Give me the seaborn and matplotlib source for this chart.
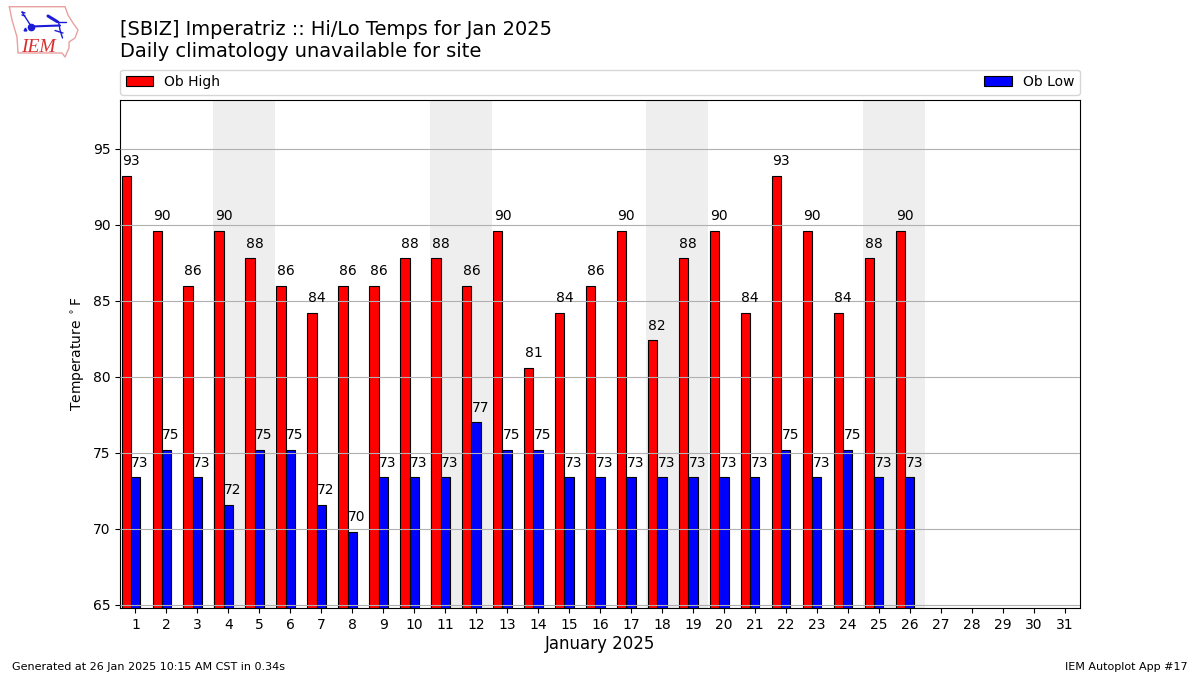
import matplotlib
matplotlib.use("Agg")
import matplotlib.pyplot as plt
import numpy as np
import pandas as pd
import seaborn as sns

days = list(range(1, 27))
highs = [93.2, 89.6, 86.0, 89.6, 87.8, 86.0, 84.2, 86.0, 86.0, 87.8, 87.8, 86.0, 89.6,
         80.6, 84.2, 86.0, 89.6, 82.4, 87.8, 89.6, 84.2, 93.2, 89.6, 84.2, 87.8, 89.6]
lows = [73.4, 75.2, 73.4, 71.6, 75.2, 75.2, 71.6, 69.8, 73.4, 73.4, 73.4, 77.0, 75.2,
        75.2, 73.4, 73.4, 73.4, 73.4, 73.4, 73.4, 73.4, 75.2, 73.4, 75.2, 73.4, 73.4]
weekends = [(3.5, 5.5), (10.5, 12.5), (17.5, 19.5), (24.5, 26.5)]
tick_days = list(range(1, 32))
y_ticks = [65, 70, 75, 80, 85, 90, 95]

sns.set_theme(style="white", rc={"axes.edgecolor": "black", "xtick.bottom": True, "ytick.left": True,
                                 "text.color": "black", "axes.labelcolor": "black",
                                 "xtick.color": "black", "ytick.color": "black"})
plt.rcParams["font.family"] = ["DejaVu Sans"]

fig = plt.figure(figsize=(12, 6.75), dpi=100)
ax = fig.add_axes([120 / 1200, 1 - 608 / 675, 960 / 1200, 508 / 675])

BAR = 0.3
df = pd.DataFrame({"day": days, "high": highs, "low": lows})
df["xh"] = df["day"] - 0.3
df["xl"] = df["day"]

for a, b in weekends:
    ax.axvspan(a, b, color="#eeeeee", lw=0, zorder=0)

sns.barplot(data=df, x="xh", y="high", native_scale=True, width=BAR, color="red", saturation=1,
            edgecolor="black", linewidth=0.8, label="Ob High", ax=ax, zorder=2, legend=False)
sns.barplot(data=df, x="xl", y="low", native_scale=True, width=BAR, color="blue", saturation=1,
            edgecolor="black", linewidth=0.8, label="Ob Low", ax=ax, zorder=2, legend=False)

for d, h, l in zip(days, highs, lows):
    ax.text(d - 0.435, h + 0.5, f"{h:.0f}", ha="left", va="bottom", fontsize=10, zorder=5)
    ax.text(d - 0.135, l + 0.5, f"{l:.0f}", ha="left", va="bottom", fontsize=10, zorder=5)

ax.set_xlim(0.5, 31.5)
ax.set_ylim(64.8, 98.2)
ax.set_xticks(tick_days)
ax.set_xticklabels([str(d) for d in tick_days], fontsize=10)
ax.set_yticks(y_ticks)
ax.tick_params(axis="both", labelsize=10, length=3.5, width=0.8, pad=3.5)
ax.yaxis.grid(True, color="#b0b0b0", lw=0.8, zorder=3)
ax.xaxis.grid(False)
ax.set_axisbelow(False)
for s in ax.spines.values():
    s.set_linewidth(0.8)
ax.set_xlabel("January 2025", fontsize=12, labelpad=2.5)
ax.set_ylabel("Temperature $^\\circ$F", fontsize=10, labelpad=4)

handles, labels = ax.get_legend_handles_labels()
ax.legend(handles, labels, loc="lower left", bbox_to_anchor=(0, 1.0105, 1, 0.05), mode="expand",
          ncol=2, fontsize=10, frameon=True, borderaxespad=0, edgecolor="#cccccc")

fig.text(120 / 1200, 1 - 61 / 675, "[SBIZ] Imperatriz :: Hi/Lo Temps for Jan 2025\nDaily climatology unavailable for site",
         fontsize=13.95, ha="left", va="bottom", linespacing=1.2)
fig.text(12 / 1200, 1 - 670 / 675, "Generated at 26 Jan 2025 10:15 AM CST in 0.34s", fontsize=8, ha="left", va="baseline")
fig.text(1188 / 1200, 1 - 670 / 675, "IEM Autoplot App #17", fontsize=8, ha="right", va="baseline")

# logo overlay, drawn in pixel space of the figure
lg = fig.add_axes([0, 0, 1, 1], facecolor="none", zorder=10)
lg.set_xlim(0, 1200)
lg.set_ylim(675, 0)
lg.axis("off")
ox = [9.3, 65, 68, 73, 78, 75, 69, 69, 65, 62, 18, 17, 12, 9.3]
oy = [6.7, 6.7, 15, 23, 30, 38, 42, 48, 57, 53, 53, 37, 20, 6.7]
lg.plot(ox, oy, color="#e8a0a0", lw=1)
blue = "#1c1cd8"
lg.plot([31, 60], [26.5, 25.5], color=blue, lw=1.5)
lg.plot([22, 31], [12, 26], color=blue, lw=1)
lg.plot([22, 25], [12, 13], color=blue, lw=1)
lg.plot([22, 25], [15, 16], color=blue, lw=1)
lg.plot([48, 57], [16, 21.5], color=blue, lw=2.2)
lg.plot([57, 66], [21.5, 21.5], color=blue, lw=1)
lg.plot([58.5, 60, 62.5], [21.5, 30, 38], color=blue, lw=1)
lg.plot([55, 63], [30.5, 33], color=blue, lw=1)
lg.plot([31], [26.5], "o", color=blue, ms=4.5)
lg.plot([25], [28.5], "^", color=blue, ms=2)
lg.text(21, 52, "IEM", family="Liberation Serif", style="italic", fontsize=14, color="#d83030", ha="left", va="baseline")

fig.savefig("out.png", dpi=100)
